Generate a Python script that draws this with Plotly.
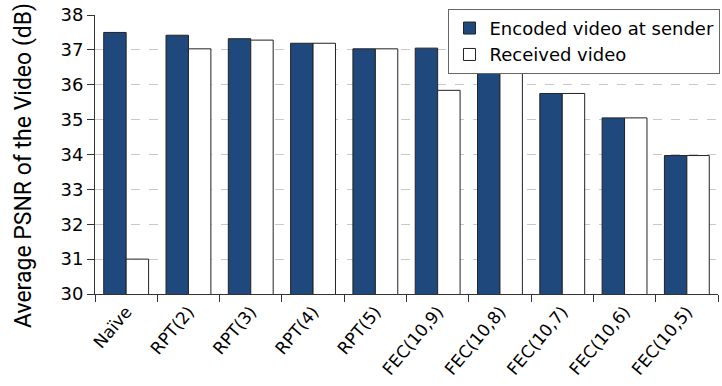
import plotly.graph_objects as go

categories = ["Naïve", "RPT(2)", "RPT(3)", "RPT(4)", "RPT(5)",
              "FEC(10,9)", "FEC(10,8)", "FEC(10,7)", "FEC(10,6)", "FEC(10,5)"]
encoded = [37.50, 37.42, 37.32, 37.19, 37.03, 37.05, 36.42, 35.75, 35.05, 33.97]
received = [31.00, 37.03, 37.28, 37.19, 37.03, 35.84, 36.40, 35.75, 35.05, 33.97]
y_ticks = [30, 31, 32, 33, 34, 35, 36, 37, 38]

font = "DejaVu Sans"
title_font = "Roboto"

fig = go.Figure()
fig.add_trace(go.Bar(
    x=categories, y=encoded, name="Encoded video at sender",
    marker=dict(color="#1f497d", line=dict(color="#222222", width=1)),
))
fig.add_trace(go.Bar(
    x=categories, y=received, name="Received video",
    marker=dict(color="#ffffff", line=dict(color="#222222", width=1)),
))

fig.update_layout(
    width=722, height=386,
    margin=dict(l=95, r=2, t=15, b=92),
    paper_bgcolor="white", plot_bgcolor="white",
    barmode="group", bargap=0.28, bargroupgap=0,
    font=dict(family=font, color="black"),
    legend=dict(
        x=1.004, xanchor="right", y=1.022, yanchor="top",
        bgcolor="white", bordercolor="#666666", borderwidth=1,
        font=dict(size=18, family=font), tracegroupgap=0,
    ),
    showlegend=True,
)

fig.add_annotation(
    text="Average PSNR of the Video (dB)", textangle=-90,
    xref="paper", yref="paper", x=-0.115, y=0.46,
    xanchor="center", yanchor="middle", showarrow=False,
    font=dict(size=23, family=title_font, color="black"),
)

fig.update_xaxes(
    type="category", tickson="boundaries",
    ticks="outside", ticklen=7, tickcolor="#333333",
    showline=True, linecolor="#333333", linewidth=1,
    tickangle=-50, tickfont=dict(size=17, family=font),
    showgrid=False,
)
fig.update_yaxes(
    range=[30, 38], tickvals=y_ticks,
    ticks="outside", ticklen=7, tickcolor="#333333",
    showline=True, linecolor="#333333", linewidth=1,
    showgrid=True, gridcolor="#c8c8c8", griddash="dash", gridwidth=1,
    tickfont=dict(size=18, family=font),
    zeroline=False,
)

fig.write_html("out.html")
